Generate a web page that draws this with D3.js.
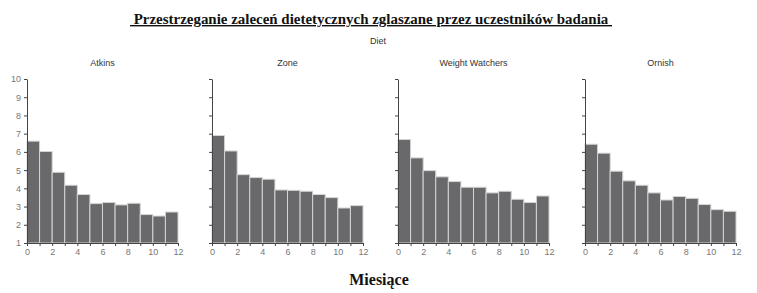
<!DOCTYPE html>
<html>
<head>
<meta charset="utf-8">
<script src="https://cdn.jsdelivr.net/npm/d3@7"></script>
<style>
  body { margin: 0; background: #fff; }
  svg { display: block; }
  .tick text { font-family: "Liberation Sans", Arial, sans-serif; font-size: 9px; fill: #777; }
  .domain, .tick line { stroke: #444; }
</style>
</head>
<body>
<div id="chart"></div>
<script>
// months 0..11 (each bar covers [m, m+1])
const months = [0, 1, 2, 3, 4, 5, 6, 7, 8, 9, 10, 11];
const diets = ["Atkins", "Zone", "Weight Watchers", "Ornish"];

// self-reported adherence
const atkins = [6.59, 6.02, 4.88, 4.17, 3.66, 3.16, 3.22, 3.09, 3.18, 2.56, 2.48, 2.70];
const zone = [6.90, 6.05, 4.75, 4.59, 4.50, 3.91, 3.89, 3.84, 3.66, 3.49, 2.92, 3.05];
const weightWatchers = [6.68, 5.67, 4.97, 4.63, 4.37, 4.06, 4.06, 3.75, 3.84, 3.40, 3.22, 3.58];
const ornish = [6.42, 5.93, 4.94, 4.41, 4.17, 3.75, 3.36, 3.55, 3.45, 3.11, 2.83, 2.74];

const xTicks = [0, 2, 4, 6, 8, 10, 12];
const yTicks = [1, 2, 3, 4, 5, 6, 7, 8, 9, 10];

const series = [atkins, zone, weightWatchers, ornish];

const W = 757, H = 293;
const svg = d3.select("#chart").append("svg")
    .attr("width", W)
    .attr("height", H);

// title
svg.append("text")
    .attr("x", 130).attr("y", 24)
    .attr("textLength", 482)
    .attr("lengthAdjust", "spacingAndGlyphs")
    .style("font-family", "'Liberation Serif', 'Times New Roman', serif")
    .style("font-weight", "bold")
    .style("font-size", "14px")
    .style("text-decoration", "underline")
    .attr("fill", "#111")
    .text("\u00a0Przestrzeganie zaleceń dietetycznych zglaszane przez uczestników badania\u00a0");

svg.append("text")
    .attr("x", 378).attr("y", 44)
    .attr("text-anchor", "middle")
    .style("font-family", "'Liberation Sans', Arial, sans-serif")
    .style("font-size", "9px")
    .attr("fill", "#333")
    .text("Diet");

const panelLeft = [27, 212, 398, 585];
const panelW = 151;
const plotTop = 79, plotBottom = 243;

const y = d3.scaleLinear().domain([1, 10]).range([plotBottom, plotTop]);

diets.forEach(function(name, i) {
    const x = d3.scaleLinear().domain([0, 12]).range([0, panelW]);
    const g = svg.append("g")
        .attr("transform", "translate(" + panelLeft[i] + ",0)");

    g.append("text")
        .attr("x", panelW / 2).attr("y", 66)
        .attr("text-anchor", "middle")
        .style("font-family", "'Liberation Sans', Arial, sans-serif")
        .style("font-size", "9px")
        .attr("fill", "#333")
        .text(name);

    g.selectAll("rect")
        .data(series[i])
      .enter().append("rect")
        .attr("x", (d, j) => x(months[j]))
        .attr("width", (d, j) => x(months[j] + 1) - x(months[j]))
        .attr("y", d => y(d))
        .attr("height", d => plotBottom - y(d))
        .attr("fill", "#69696b")
        .attr("stroke", "#d4d4d4")
        .attr("stroke-width", 1);

    const xAxis = d3.axisBottom(x)
        .tickValues(d3.range(0, 13))
        .tickSize(3)
        .tickSizeOuter(0)
        .tickFormat(d => xTicks.includes(d) ? d : "");
    g.append("g")
        .attr("transform", "translate(0," + plotBottom + ")")
        .call(xAxis);

    const yAxis = d3.axisLeft(y)
        .tickValues(yTicks)
        .tickSize(3)
        .tickSizeOuter(0)
        .tickFormat(i === 0 ? d3.format("d") : "");
    g.append("g").call(yAxis);
});

svg.append("text")
    .attr("x", 379).attr("y", 285)
    .attr("text-anchor", "middle")
    .style("font-family", "'Liberation Serif', 'Times New Roman', serif")
    .style("font-weight", "bold")
    .style("font-size", "16px")
    .attr("fill", "#111")
    .text("Miesiące");
</script>
</body>
</html>
